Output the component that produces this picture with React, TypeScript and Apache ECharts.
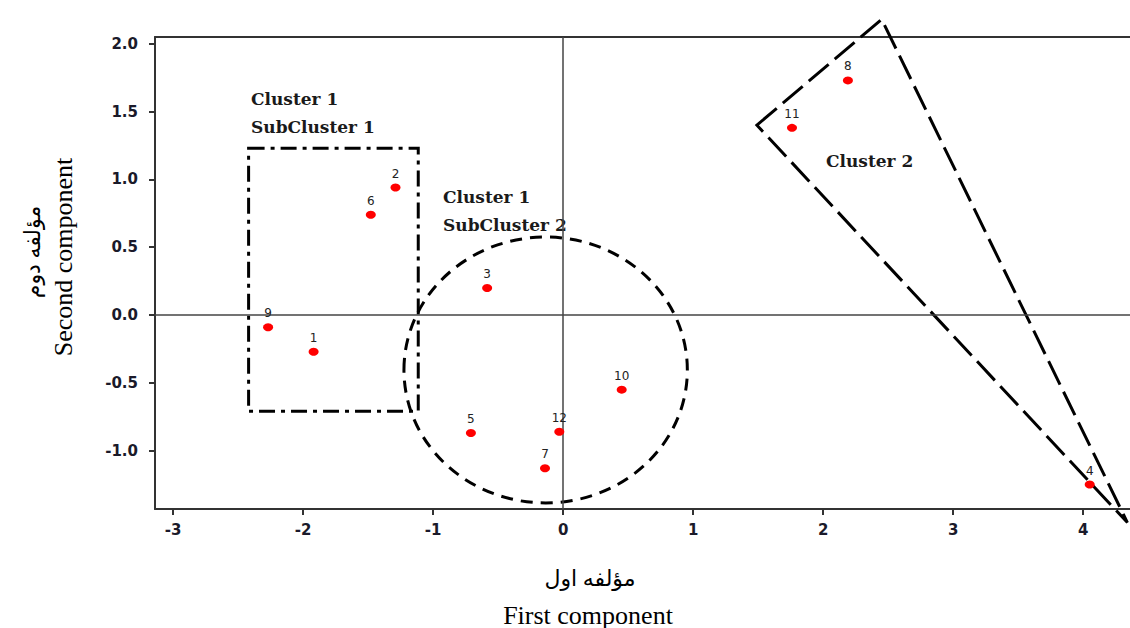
import React, { useEffect, useRef } from "react";
import * as echarts from "echarts";

// ---- data ----
const pointLabels = ["1", "2", "3", "4", "5", "6", "7", "8", "9", "10", "11", "12"];
const xValues = [-1.92, -1.29, -0.585, 4.05, -0.71, -1.48, -0.14, 2.19, -2.27, 0.45, 1.76, -0.03];
const yValues = [-0.27, 0.94, 0.2, -1.25, -0.87, 0.74, -1.13, 1.73, -0.09, -0.55, 1.38, -0.86];
const xTicks = [-3, -2, -1, 0, 1, 2, 3, 4];
const yTicks = [-1.0, -0.5, 0.0, 0.5, 1.0, 1.5, 2.0];
const subCluster1Rect = [[-2.42, 1.23], [-1.115, -0.71]];
const subCluster2Center = [-0.135, -0.405];
const subCluster2Radii = [1.09, 0.98];
const cluster2Triangle = [[1.49, 1.4], [2.45, 2.18], [4.34, -1.53]];
const xTitleFa = "مؤلفه اول";
const xTitleEn = "First component";
const yTitleFa = "مؤلفه دوم";
const yTitleEn = "Second component";

export default function App() {
  const ref = useRef<HTMLDivElement>(null);
  useEffect(() => {
    if (!ref.current) return;
    const chart = echarts.init(ref.current, undefined, { renderer: "svg" });
    const scatterData = xValues.map((x, i) => ({ name: pointLabels[i], value: [x, yValues[i]] }));
    const tickFont = { fontFamily: "'DejaVu Sans', Verdana, sans-serif", fontWeight: "bold" as const, fontSize: 15, color: "#1a1a2a" };
    const clusterFont = { fontFamily: "'DejaVu Serif', serif", fontWeight: "bold", fontSize: 17, fill: "#1a1a1a" };
    const titleFont = "'Liberation Serif', 'DejaVu Sans', serif";
    const option: any = {
      animation: false,
      backgroundColor: "#fff",
      grid: { left: 155, right: 0, top: 37, bottom: 119, containLabel: false, outerBoundsMode: "none" },
      xAxis: [
        {
          type: "value",
          position: "bottom",
          min: -3.14,
          max: 4.36,
          axisLine: { show: true, onZero: false, lineStyle: { color: "#333", width: 2 } },
          axisTick: { show: true, customValues: xTicks, length: 6, lineStyle: { color: "#333", width: 2 } },
          axisLabel: { customValues: xTicks, margin: 13, ...tickFont },
          splitLine: { show: false },
        },
        {
          type: "value",
          position: "top",
          min: -3.14,
          max: 4.36,
          axisLine: { show: true, onZero: false, lineStyle: { color: "#333", width: 2 } },
          axisTick: { show: false },
          axisLabel: { show: false },
          splitLine: { show: false },
        },
      ],
      yAxis: {
        type: "value",
        min: -1.43,
        max: 2.05,
        axisLine: { show: true, onZero: false, lineStyle: { color: "#333", width: 2 } },
        axisTick: { show: true, customValues: yTicks, length: 6, lineStyle: { color: "#333", width: 2 } },
        axisLabel: { customValues: yTicks, margin: 17, formatter: (v: number) => v.toFixed(1), ...tickFont },
        splitLine: { show: false },
      },
      series: [
        {
          type: "scatter",
          xAxisIndex: 0,
          symbol: "circle",
          symbolSize: [10, 8],
          itemStyle: { color: "#ff0000", opacity: 1 },
          z: 5,
          label: {
            show: true,
            position: "top",
            distance: 4,
            formatter: (p: any) => p.name,
            fontFamily: "'DejaVu Sans', Verdana, sans-serif",
            fontSize: 12,
            color: "#222",
          },
          data: scatterData,
          markLine: {
            silent: true,
            symbol: "none",
            label: { show: false },
            lineStyle: { color: "#444", width: 1.5, type: "solid" },
            data: [{ xAxis: 0 }, { yAxis: 0 }],
          },
        },
        {
          type: "custom",
          xAxisIndex: 0,
          clip: false,
          silent: true,
          z: 4,
          data: [subCluster1Rect[0]],
          renderItem: (_p: any, api: any) => {
            const a = api.coord(subCluster1Rect[0]);
            const b = api.coord(subCluster1Rect[1]);
            return {
              type: "polygon",
              shape: { points: [[a[0], a[1]], [b[0], a[1]], [b[0], b[1]], [a[0], b[1]]] },
              style: { fill: "none", stroke: "#000", lineWidth: 3, lineDash: [16, 6, 4, 6] },
            };
          },
        },
        {
          type: "custom",
          xAxisIndex: 0,
          clip: false,
          silent: true,
          z: 4,
          data: [subCluster2Center],
          renderItem: (_p: any, api: any) => {
            const c = api.coord(subCluster2Center);
            const s = api.size(subCluster2Radii);
            return {
              type: "ellipse",
              shape: { cx: c[0], cy: c[1], rx: s[0], ry: s[1] },
              style: { fill: "none", stroke: "#000", lineWidth: 3, lineDash: [12, 8] },
            };
          },
        },
        {
          type: "custom",
          xAxisIndex: 0,
          clip: false,
          silent: true,
          z: 4,
          data: [cluster2Triangle[0]],
          renderItem: (_p: any, api: any) => {
            const pts = cluster2Triangle.map((v) => api.coord(v));
            return {
              type: "polygon",
              shape: { points: pts.map((p: number[]) => [p[0], p[1]]) },
              style: { fill: "none", stroke: "#000", lineWidth: 3, lineDash: [26, 8] },
            };
          },
        },
      ],
      graphic: [
        { type: "text", left: 251, top: 90, style: { text: "Cluster 1", ...clusterFont } },
        { type: "text", left: 251, top: 118, style: { text: "SubCluster 1", ...clusterFont } },
        { type: "text", left: 443, top: 188, style: { text: "Cluster 1", ...clusterFont } },
        { type: "text", left: 443, top: 216, style: { text: "SubCluster 2", ...clusterFont } },
        { type: "text", left: 826, top: 152, style: { text: "Cluster 2", ...clusterFont } },
        {
          type: "text",
          x: 590,
          y: 578,
          style: { text: xTitleFa, fontFamily: titleFont, fontSize: 22, fill: "#000", textAlign: "center", textVerticalAlign: "middle" },
        },
        {
          type: "text",
          x: 588,
          y: 615,
          style: { text: xTitleEn, fontFamily: titleFont, fontSize: 26, fill: "#000", textAlign: "center", textVerticalAlign: "middle" },
        },
        {
          type: "text",
          x: 32,
          y: 252,
          rotation: Math.PI / 2,
          style: { text: yTitleFa, fontFamily: titleFont, fontSize: 22, fill: "#000", textAlign: "center", textVerticalAlign: "middle" },
        },
        {
          type: "text",
          x: 63,
          y: 257,
          rotation: Math.PI / 2,
          style: { text: yTitleEn, fontFamily: titleFont, fontSize: 26, fill: "#000", textAlign: "center", textVerticalAlign: "middle" },
        },
      ],
    };
    chart.setOption(option);
    return () => chart.dispose();
  }, []);
  return (
    <div
      ref={ref}
      style={{ position: "fixed", left: 0, top: 0, width: 1130, height: 628, background: "#fff" }}
    />
  );
}
